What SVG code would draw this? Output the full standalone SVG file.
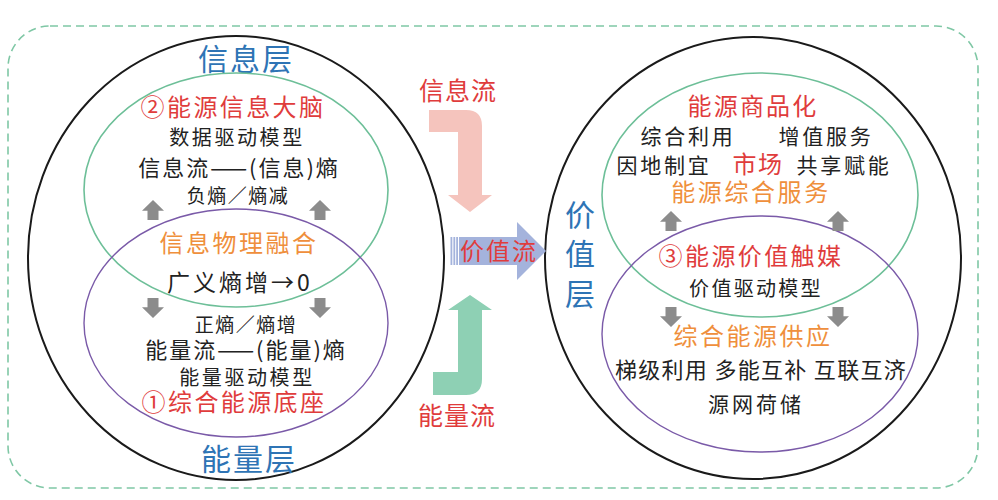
<svg xmlns="http://www.w3.org/2000/svg" width="998" height="500" viewBox="0 0 998 500">
<style>
text{font-family:"Noto Sans CJK SC","Liberation Sans",sans-serif;text-anchor:middle}
.blk{fill:#222}
.red{fill:#e03c3c}
.org{fill:#ef8f3c}
.blu{fill:#2e74b5}
.outer{fill:none;stroke:#1a1a1a;stroke-width:2}
.grn{fill:none;stroke:#6dbf98;stroke-width:1.6}
.pur{fill:none;stroke:#7a5aa8;stroke-width:1.4}
.ga{fill:#8c8c8c}
</style>
<defs>
<path id="up" d="M0,0 L11,10.7 H5.5 V20 H-5.5 V10.7 H-11 Z"/>
<path id="dn" d="M0,20 L11,9.3 H5.5 V0 H-5.5 V9.3 H-11 Z"/>
</defs>
<rect id="frame" x="8" y="26" width="970" height="462" rx="42" ry="42" fill="none" stroke="#7fc7a5" stroke-width="1.6" stroke-dasharray="8 5"/>

<g id="left-layer">
<ellipse class="outer" cx="236" cy="258" rx="208" ry="222"/>
<text class="blu" x="246" y="70" font-size="30" letter-spacing="2">信息层</text>
<text class="blu" x="249" y="470" font-size="30" letter-spacing="2">能量层</text>
</g>

<g id="info-brain">
<ellipse class="grn" cx="236" cy="190" rx="152" ry="117"/>
<text class="red" x="233" y="116" font-size="24" letter-spacing="2.4">②能源信息大脑</text>
<text class="blk" x="237" y="145" font-size="20" letter-spacing="2.6">数据驱动模型</text>
<text class="blk" x="239" y="176" font-size="22" letter-spacing="2">信息流——(信息)熵</text>
<text class="blk" x="238" y="203" font-size="19" letter-spacing="1.5">负熵／熵减</text>
</g>

<g id="energy-base">
<ellipse class="pur" cx="236" cy="323" rx="152" ry="114"/>
<text class="org" x="239" y="252" font-size="24" letter-spacing="2.5">信息物理融合</text>
<text class="blk" x="240" y="291" font-size="23" letter-spacing="3">广义熵增→0</text>
<text class="blk" x="246" y="332" font-size="19" letter-spacing="1.5">正熵／熵增</text>
<text class="blk" x="246" y="358" font-size="22" letter-spacing="2">能量流——(能量)熵</text>
<text class="blk" x="247" y="385" font-size="20" letter-spacing="2.6">能量驱动模型</text>
<text class="red" x="234" y="411" font-size="24" letter-spacing="2.4">①综合能源底座</text>
</g>

<g id="right-layer">
<ellipse class="outer" cx="753" cy="258" rx="208" ry="221"/>
<text class="blu" x="580" y="226" font-size="30">价</text>
<text class="blu" x="580" y="265" font-size="30">值</text>
<text class="blu" x="580" y="305" font-size="30">层</text>
</g>

<g id="market">
<ellipse class="grn" cx="760" cy="195" rx="158" ry="122"/>
<text class="red" x="753" y="115" font-size="24" letter-spacing="2.2">能源商品化</text>
<text class="blk" x="688" y="144" font-size="21" letter-spacing="2.7">综合利用</text>
<text class="blk" x="826" y="144" font-size="21" letter-spacing="2.7">增值服务</text>
<text class="blk" x="664" y="173" font-size="21" letter-spacing="2.7">因地制宜</text>
<text class="red" x="758" y="173" font-size="24" letter-spacing="1.5">市场</text>
<text class="blk" x="844" y="173" font-size="21" letter-spacing="2.7">共享赋能</text>
<text class="org" x="751" y="201" font-size="24" letter-spacing="2.6">能源综合服务</text>
</g>

<g id="value-catalyst">
<ellipse class="pur" cx="760" cy="334" rx="158" ry="118"/>
<text class="red" x="751" y="265" font-size="24" letter-spacing="2.4">③能源价值触媒</text>
<text class="blk" x="756" y="296" font-size="20" letter-spacing="2.3">价值驱动模型</text>
<text class="org" x="753" y="345" font-size="24" letter-spacing="2.5">综合能源供应</text>
<text class="blk" x="761" y="378" font-size="22" letter-spacing="1.3">梯级利用 多能互补 互联互济</text>
<text class="blk" x="756" y="412" font-size="21" letter-spacing="3">源网荷储</text>
</g>

<g id="connectors">
<use href="#up" class="ga" x="153" y="200"/>
<use href="#up" class="ga" x="320" y="200"/>
<use href="#dn" class="ga" x="153" y="298"/>
<use href="#dn" class="ga" x="320" y="298"/>
<use href="#up" class="ga" x="671" y="211"/>
<use href="#up" class="ga" x="838" y="211"/>
<use href="#dn" class="ga" x="671" y="307"/>
<use href="#dn" class="ga" x="838" y="307"/>
<path id="info-flow-arrow" d="M429,110 H466 Q482,110 482,126 V195 H492 L470,212 L448,195 H458 V132 H429 Z" fill="#f5c4bd"/>
<path id="energy-flow-arrow" d="M433,395 H466 Q482,395 482,379 V310 H492 L470,295 L448,310 H458 V372 H433 Z" fill="#8ed0b4"/>
<g id="value-flow-arrow" fill="#a4b3dc">
<rect x="450.5" y="237" width="1.8" height="28"/>
<rect x="453.4" y="237" width="1.8" height="28"/>
<rect x="456.2" y="237" width="1.8" height="28"/>
<path d="M459,237 H517 V222 L546,251 L517,280 V265 H459 Z"/>
</g>
<text class="red" x="458" y="100" font-size="25" letter-spacing="1">信息流</text>
<text class="red" x="457" y="425" font-size="25" letter-spacing="1">能量流</text>
<text class="red" x="499" y="260" font-size="24" letter-spacing="2">价值流</text>
</g>
</svg>
